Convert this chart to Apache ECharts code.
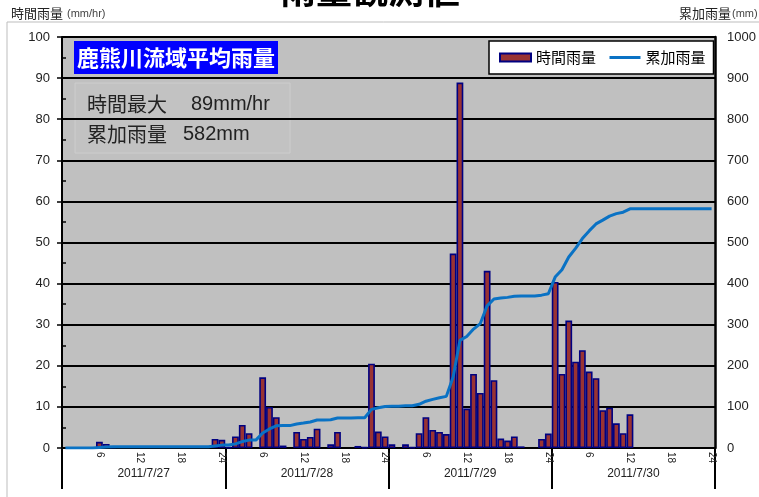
<!DOCTYPE html>
<html>
<head>
<meta charset="utf-8">
<script src="https://cdn.jsdelivr.net/npm/echarts@6/dist/echarts.min.js"></script>
<style>
html,body{margin:0;padding:0;background:#fff;}
#c{width:759px;height:497px;}
</style>
</head>
<body>
<div id="c"></div>
<script>
const days = ['2011/7/27', '2011/7/28', '2011/7/29', '2011/7/30'];
const hourLabels = ['1','2','3','4','5','6','7','8','9','10','11','12','13','14','15','16','17','18','19','20','21','22','23','24'];
const leftTicks = [0, 100, 10];
const rightTicks = [0, 1000, 100];

// 時間雨量 (mm/hr), hourly, 96 values
const hourlyRain = [
  0, 0, 0, 0, 0, 1.5, 1.0, 0.3, 0, 0, 0, 0, 0, 0, 0, 0, 0, 0, 0, 0, 0, 0, 2.2, 2.0,
  0.2, 2.8, 5.6, 3.6, 0, 17.2, 10.0, 7.5, 0.6, 0, 3.9, 2.2, 2.7, 4.7, 0, 0.9, 3.9, 0, 0, 0.5, 0.2, 20.5, 4.0, 2.8,
  0.9, 0, 0.9, 0.2, 3.6, 7.5, 4.4, 3.9, 3.4, 47.3, 88.9, 9.6, 18.0, 13.4, 43.1, 16.5, 2.3, 1.8, 2.8, 0.4, 0, 0, 2.2, 3.5,
  40.4, 18.0, 31.0, 21.0, 23.8, 18.6, 17.0, 9.2, 9.8, 6.0, 3.6, 8.2, 0, 0, 0, 0, 0, 0, 0, 0, 0, 0, 0, 0
];

// 累加雨量 (mm), 96 values
const cumulativeRain = [
  0, 0, 0, 0, 0, 1.5, 2.5, 2.8, 2.8, 2.8, 2.8, 2.8, 2.8, 2.8, 2.8, 2.8, 2.8, 2.8, 2.8, 2.8, 2.8, 2.8, 5.0, 7.0,
  7.2, 10.0, 15.6, 19.2, 19.2, 36.4, 46.4, 53.9, 54.5, 54.5, 58.4, 60.6, 63.3, 68.0, 68.0, 68.9, 72.8, 72.8, 72.8, 73.3, 73.5, 94.0, 98.0, 100.8,
  101.7, 101.7, 102.6, 102.8, 106.4, 113.9, 118.3, 122.2, 125.6, 172.9, 261.8, 271.4, 289.4, 302.8, 345.9, 362.4, 364.7, 366.5, 369.3, 369.7, 369.7, 369.7, 371.9, 375.4,
  415.8, 433.8, 464.8, 485.8, 509.6, 528.2, 545.2, 554.4, 564.2, 570.2, 573.8, 582.0, 582.0, 582.0, 582.0, 582.0, 582.0, 582.0, 582.0, 582.0, 582.0, 582.0, 582.0, 582.0
];

const categories = [];
days.forEach(d => hourLabels.forEach(h => categories.push(d + '|' + h)));

const JP = '"Noto Sans CJK JP", sans-serif';
const NUM = '"Liberation Sans", Arial, sans-serif';

const chart = echarts.init(document.getElementById('c'), null, {renderer: 'canvas'});
chart.setOption({
  animation: false,
  backgroundColor: '#fff',
  grid: {
    left: 62, right: 44, top: 37, bottom: 49,
    show: true, backgroundColor: '#c0c0c0', borderWidth: 0
  },
  legend: {
    left: 489, top: 41,
    padding: [9, 8, 9, 10],
    backgroundColor: '#fff',
    borderColor: '#000', borderWidth: 1.5,
    itemWidth: 31, itemHeight: 8, itemGap: 12,
    textStyle: {fontFamily: JP, fontSize: 15, color: '#000'},
    data: [
      {name: '時間雨量', icon: 'rect'},
      {name: '累加雨量', itemStyle: {opacity: 0}, lineStyle: {color: '#0a72c4', width: 3}}
    ]
  },
  xAxis: [
    {
      type: 'category',
      data: categories,
      boundaryGap: true,
      axisLine: {show: true, lineStyle: {color: '#000', width: 2}},
      axisTick: {show: false},
      splitLine: {show: false},
      axisLabel: {
        interval: (i) => (i + 1) % 6 === 0,
        rotate: -90,
        margin: 4,
        fontSize: 10,
        fontFamily: NUM,
        color: '#222',
        formatter: (v) => v.split('|')[1]
      }
    },
    {
      type: 'category',
      data: days,
      position: 'bottom',
      boundaryGap: true,
      axisLine: {show: false},
      axisTick: {show: true, length: 41, interval: 0, lineStyle: {color: '#000', width: 2}},
      splitLine: {show: false},
      axisLabel: {margin: 20, fontSize: 12, fontFamily: NUM, color: '#222'}
    }
  ],
  yAxis: [
    {
      type: 'value',
      position: 'left',
      min: leftTicks[0], max: leftTicks[1], interval: leftTicks[2],
      axisLine: {show: true, lineStyle: {color: '#000', width: 2}},
      axisTick: {show: true, length: 5, lineStyle: {color: '#000', width: 1.5}},
      splitLine: {show: true, lineStyle: {color: '#000', width: 2}},
      axisLabel: {margin: 12, fontSize: 13, fontFamily: NUM, color: '#222'}
    },
    {
      type: 'value',
      position: 'right',
      min: rightTicks[0], max: rightTicks[1], interval: rightTicks[2],
      axisLine: {show: true, lineStyle: {color: '#000', width: 2.5}},
      axisTick: {show: false},
      splitLine: {show: false},
      axisLabel: {margin: 12, fontSize: 13, fontFamily: NUM, color: '#222', formatter: (v) => String(v)}
    },
    {
      type: 'value',
      position: 'left',
      min: 0, max: 100, interval: 5,
      axisLine: {show: false},
      axisTick: {show: true, inside: true, length: 4, lineStyle: {color: '#000', width: 1.5}},
      splitLine: {show: false},
      axisLabel: {show: false}
    }
  ],
  series: [
    {
      name: '時間雨量',
      type: 'bar',
      xAxisIndex: 0, yAxisIndex: 0,
      barCategoryGap: '0%',
      data: hourlyRain.map(v => v === 0 ? '-' : v),
      itemStyle: {color: '#993333', borderColor: '#000080', borderWidth: 1.6}
    },
    {
      name: '累加雨量',
      type: 'line',
      xAxisIndex: 0, yAxisIndex: 1,
      data: cumulativeRain,
      symbol: 'none',
      showSymbol: false,
      lineStyle: {color: '#0a72c4', width: 3},
      itemStyle: {color: '#0a72c4'}
    }
  ],
  graphic: [
    {type: 'rect', shape: {x: 7, y: 22, width: 760, height: 478}, style: {fill: 'none', stroke: '#bdbdbd', lineWidth: 1}, z: -10, silent: true},
    {type: 'text', x: 370, y: -10, style: {text: '雨量観測値', fontFamily: JP, fontSize: 36, fontWeight: 'bold', fill: '#000', align: 'center', verticalAlign: 'middle'}},
    {type: 'text', x: 11, y: 13, style: {text: '時間雨量', fontFamily: JP, fontSize: 13, fill: '#222', verticalAlign: 'middle'}},
    {type: 'text', x: 67, y: 14, style: {text: '(mm/hr)', fontFamily: NUM, fontSize: 11, fill: '#444', verticalAlign: 'middle'}},
    {type: 'text', x: 731, y: 13, style: {text: '累加雨量', fontFamily: JP, fontSize: 13, fill: '#222', align: 'right', verticalAlign: 'middle'}},
    {type: 'text', x: 732, y: 14, style: {text: '(mm)', fontFamily: NUM, fontSize: 11, fill: '#444', verticalAlign: 'middle'}},
    {type: 'rect', shape: {x: 74, y: 41, width: 204, height: 33}, style: {fill: '#0000ff'}},
    {type: 'text', x: 176, y: 58, style: {text: '鹿熊川流域平均雨量', fontFamily: JP, fontSize: 22, fontWeight: 'bold', fill: '#fff', align: 'center', verticalAlign: 'middle'}},
    {type: 'rect', shape: {x: 75, y: 83, width: 215, height: 70}, style: {fill: 'rgba(200,200,200,0.25)', stroke: '#cdcdcd', lineWidth: 1}},
    {type: 'text', x: 87, y: 104, style: {text: '時間最大', fontFamily: JP, fontSize: 20, fill: '#222', verticalAlign: 'middle'}},
    {type: 'text', x: 191, y: 104, style: {text: '89mm/hr', fontFamily: NUM, fontSize: 20, fill: '#222', verticalAlign: 'middle'}},
    {type: 'text', x: 87, y: 134, style: {text: '累加雨量', fontFamily: JP, fontSize: 20, fill: '#222', verticalAlign: 'middle'}},
    {type: 'text', x: 183, y: 134, style: {text: '582mm', fontFamily: NUM, fontSize: 20, fill: '#222', verticalAlign: 'middle'}}
  ]
});
</script>
</body>
</html>
